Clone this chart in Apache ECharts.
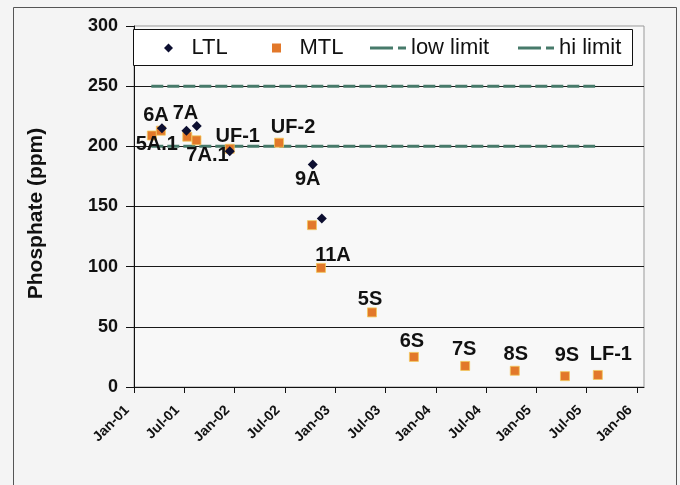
<!DOCTYPE html>
<html>
<head>
<meta charset="utf-8">
<script src="https://cdn.jsdelivr.net/npm/echarts@6/dist/echarts.min.js"></script>
<style>
html,body{margin:0;padding:0;background:#f4f4f4;}
#c{width:680px;height:485px;}
</style>
</head>
<body>
<div id="c"></div>
<script>
// ---- data ----
const ltlDates  = ['2001-04-11','2001-07-09','2001-08-16','2001-12-14','2002-10-11','2002-11-13'];
const ltlValues = [215, 213, 217, 196, 185, 140];
const ltlLabels = ['6A', '7A', '', '', '9A', ''];

const mtlDates  = ['2001-03-05','2001-04-07','2001-07-12','2001-08-15','2001-12-14','2002-06-10',
                   '2002-10-08','2002-11-10','2003-05-13','2003-10-13','2004-04-16','2004-10-14',
                   '2005-04-13','2005-08-11'];
const mtlValues = [209, 213, 208, 205, 198, 203, 134.5, 99, 62, 25, 17.5, 13.5, 9, 10];
const mtlLabels = ['5A.1','','','7A.1','UF-1','UF-2','','11A','5S','6S','7S','8S','9S','LF-1'];

const limitDates = ['2001-03-03','2005-08-01'];
const lowLimit   = [200, 200];
const hiLimit    = [250, 250];

const xTickMonths = [0,6,12,18,24,30,36,42,48,54,60];
const xTickLabels = ['Jan-01','Jul-01','Jan-02','Jul-02','Jan-03','Jul-03','Jan-04','Jul-04','Jan-05','Jul-05','Jan-06'];
const yTicks = [0,50,100,150,200,250,300];
const seriesNames = ['LTL','MTL','low limit','hi limit'];

// ---- helpers ----
function monthIndex(s){
  const [y,m,d] = s.split('-').map(Number);
  const dim = new Date(y, m, 0).getDate();
  return (y-2001)*12 + (m-1) + (d-1)/dim;
}
// label centre offsets relative to the marker centre
const labelOffset = {
  '6A':[-6,-13], '7A':[-1,-17], '9A':[-5,15],
  '5A.1':[5,9], '7A.1':[11,15], 'UF-1':[8,-12], 'UF-2':[14,-15], '11A':[12,-12],
  '5S':[-2,-13], '6S':[-2,-15], '7S':[-1,-16], '8S':[1,-16], '9S':[2,-21], 'LF-1':[13,-20]
};
const FONT = 'Liberation Sans, Arial, sans-serif';
function build(dates, vals, labels){
  return dates.map((d,i)=>{
    const item = {value:[monthIndex(d), vals[i]]};
    const name = labels[i];
    if(name){
      item.label = {show:true, formatter:name, position:'inside', offset:labelOffset[name],
        align:'center', verticalAlign:'middle', textBorderWidth:0, textBorderColor:'transparent', opacity:1,
        fontFamily:FONT, fontWeight:'bold', fontSize:20, color:'#111'};
    }
    return item;
  });
}
const limitColor = '#477a6a';
const dashIcon = 'path://M0,0h23v3h-23z M28,0h8v3h-8z';
const legendIcons = ['path://M4,0L8,4L4,8L0,4Z', 'path://M0,0h8v8h-8z', dashIcon, dashIcon];
const legendLeft = [164, 272, 370, 518];
const chart = echarts.init(document.getElementById('c'));
chart.setOption({
  backgroundColor:'#f4f4f4',
  animation:false,
  graphic:[
    {type:'rect', shape:{x:13.5,y:7.5,width:663,height:500}, style:{fill:'none', stroke:'#555', lineWidth:1}, z:-1},
    {type:'rect', shape:{x:133.5,y:29.5,width:499,height:36}, style:{fill:'#fff', stroke:'#111', lineWidth:1}, z:5}
  ],
  grid:{left:134, right:36, top:26, bottom:98, show:true, backgroundColor:'#f8f8f8', borderColor:'#999', borderWidth:1},
  legend: seriesNames.map((n,i)=>({
    left:legendLeft[i], top:37, padding:0, itemWidth:36, itemHeight:9, z:6,
    itemStyle:{borderWidth:0},
    textStyle:{fontFamily:FONT, fontSize:22, color:'#111'},
    data:[{name:n, icon:legendIcons[i]}]
  })),
  xAxis:{
    type:'value', min:0, max:60.83, interval:6,
    axisLine:{show:true, lineStyle:{color:'#111', width:1}},
    axisTick:{show:true, length:6, customValues:xTickMonths, lineStyle:{color:'#111'}},
    axisLabel:{customValues:xTickMonths, rotate:45, margin:14, padding:[0,10,0,0],
      fontFamily:FONT, fontWeight:'bold', fontSize:14, color:'#111',
      formatter:v=>{const i = xTickMonths.indexOf(Math.round(v)); return i>=0 ? xTickLabels[i] : '';}},
    splitLine:{show:false}
  },
  yAxis:{
    type:'value', min:0, max:300, interval:50,
    name:'Phosphate (ppm)', nameLocation:'middle', nameGap:87, nameRotate:90,
    nameTextStyle:{fontFamily:FONT, fontWeight:'bold', fontSize:21, color:'#111', padding:[0,14,0,0]},
    axisLine:{show:true, lineStyle:{color:'#111', width:1}},
    axisTick:{show:true, length:8, inside:false, lineStyle:{color:'#111'}},
    axisLabel:{margin:16, fontFamily:FONT, fontWeight:'bold', fontSize:18, color:'#111',
      formatter:v=> yTicks.includes(v) ? String(v) : ''},
    splitLine:{show:true, showMaxLine:false, lineStyle:{color:'#1a1a1a', width:1}}
  },
  series:[
    {name:'LTL', type:'scatter', symbol:'diamond', symbolSize:10, z:4,
     itemStyle:{color:'#0d0f30', opacity:1}, data:build(ltlDates, ltlValues, ltlLabels)},
    {name:'MTL', type:'scatter', symbol:'rect', symbolSize:9, z:3,
     itemStyle:{color:'#e2782a', borderColor:'#f2c85a', borderWidth:0.8, opacity:1}, data:build(mtlDates, mtlValues, mtlLabels)},
    {name:'low limit', type:'line', symbol:'none', z:2,
     lineStyle:{color:limitColor, width:3, type:[12,4]}, itemStyle:{color:limitColor},
     data:limitDates.map((d,i)=>[monthIndex(d), lowLimit[i]])},
    {name:'hi limit', type:'line', symbol:'none', z:2,
     lineStyle:{color:limitColor, width:3, type:[12,4]}, itemStyle:{color:limitColor},
     data:limitDates.map((d,i)=>[monthIndex(d), hiLimit[i]])}
  ]
});
</script>
</body>
</html>
